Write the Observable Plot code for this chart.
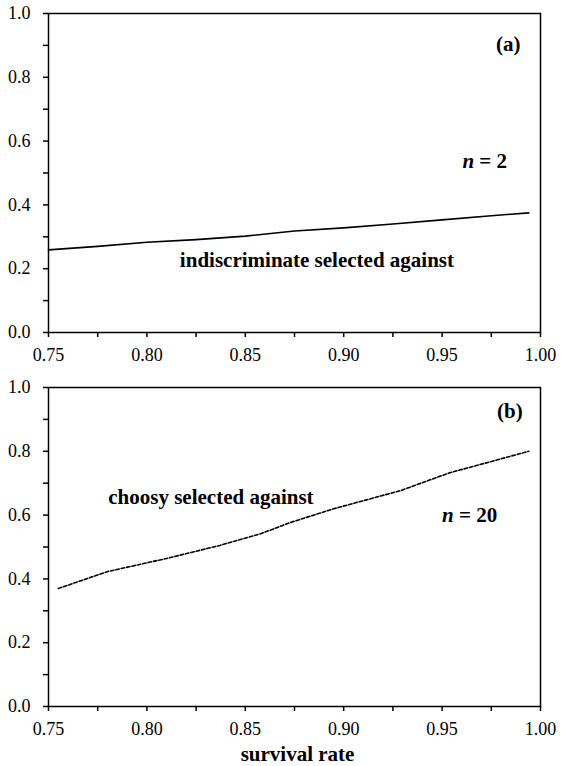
<!DOCTYPE html>
<html>
<head>
<meta charset="utf-8">
<script src="https://cdn.jsdelivr.net/npm/d3@7"></script>
<script src="https://cdn.jsdelivr.net/npm/@observablehq/plot@0.6"></script>
<style>
  html, body { margin: 0; padding: 0; background: #fff; }
  #chart { position: relative; width: 562px; height: 766px; }
  #chart svg { position: absolute; left: 0; overflow: visible; }
  #chart svg, #chart svg text, #chart svg tspan { font-family: "Liberation Serif", "Times New Roman", serif !important; }
</style>
</head>
<body>
<div id="chart"></div>
<script>
// ---- data ----
const survivalA = [0.75, 0.775, 0.80, 0.825, 0.85, 0.875, 0.90, 0.925, 0.95, 0.975, 0.994];
const valueA    = [0.259, 0.270, 0.283, 0.291, 0.302, 0.318, 0.328, 0.340, 0.353, 0.366, 0.375];
const survivalB = [0.755, 0.78, 0.81, 0.837, 0.858, 0.873, 0.895, 0.929, 0.954, 0.975, 0.994];
const valueB    = [0.370, 0.423, 0.464, 0.505, 0.542, 0.577, 0.620, 0.677, 0.733, 0.768, 0.800];
const xTicks = [0.75, 0.775, 0.80, 0.825, 0.85, 0.875, 0.90, 0.925, 0.95, 0.975, 1.00];
const xLabels = [0.75, 0.80, 0.85, 0.90, 0.95, 1.00];
const yTicks = [0, 0.1, 0.2, 0.3, 0.4, 0.5, 0.6, 0.7, 0.8, 0.9, 1.0];
const yLabels = [0, 0.2, 0.4, 0.6, 0.8, 1.0];
const panelLabels = ["(a)", "(b)"];
const nLabels = ["n = 2", "n = 20"];
const notes = ["indiscriminate selected against", "choosy selected against"];
const xTitle = "survival rate";

const near = (v, arr) => arr.some(a => Math.abs(a - v) < 1e-9);
const fx = d3.format(".2f"), fy = d3.format(".1f");
const FONT = "Liberation Serif";

function panel({xs, ys, dash, label, labelPos, nLabel, nPos, note, notePos, height, marginTop, marginBottom, extra = []}) {
  const data = xs.map((x, i) => ({x, y: ys[i]}));
  return Plot.plot({
    width: 562, height, marginLeft: 48, marginRight: 22, marginTop, marginBottom,
    style: {fontFamily: FONT, fontSize: "18px", color: "black", background: "white"},
    x: {domain: [0.75, 1.0]},
    y: {domain: [0, 1]},
    marks: [
      Plot.axisX({ticks: xTicks, tickFormat: d => near(d, xLabels) ? fx(d) : "", tickSize: 5, tickPadding: 11, strokeWidth: 1.5, label: null, fontSize: 18, fontFamily: FONT}),
      Plot.axisY({ticks: yTicks, tickFormat: d => near(d, yLabels) ? fy(d) : "", tickSize: 5, tickPadding: 13, strokeWidth: 1.5, label: null, fontSize: 18, fontFamily: FONT}),
      Plot.frame({stroke: "black", strokeWidth: 1.5}),
      Plot.line(data, {x: "x", y: "y", stroke: "black", strokeWidth: 1.6, strokeDasharray: dash}),
      Plot.text([label], {x: labelPos[0], y: labelPos[1], text: d => d, textAnchor: "end", fontWeight: "bold", fontSize: 21, fontFamily: FONT}),
      Plot.text([nLabel], {x: nPos[0], y: nPos[1], text: d => d, textAnchor: "end", fontWeight: "bold", fontSize: 21, fontFamily: FONT}),
      Plot.text([note], {x: notePos[0], y: notePos[1], text: d => d, textAnchor: notePos[2], fontWeight: "bold", fontSize: 21, fontFamily: FONT}),
      ...extra
    ]
  });
}

const a = panel({
  xs: survivalA, ys: valueA, dash: null,
  label: panelLabels[0], labelPos: [0.9898, 0.905],
  nLabel: nLabels[0], nPos: [0.983, 0.538],
  note: notes[0], notePos: [0.8864, 0.225, "middle"],
  height: 370, marginTop: 13, marginBottom: 38
});
const b = panel({
  xs: survivalB, ys: valueB, dash: "3.5,2",
  label: panelLabels[1], labelPos: [0.991, 0.927],
  nLabel: nLabels[1], nPos: [0.978, 0.601],
  note: notes[1], notePos: [0.8847, 0.657, "end"],
  height: 396, marginTop: 17, marginBottom: 60,
  extra: [Plot.text([xTitle], {frameAnchor: "bottom", lineAnchor: "bottom", dy: 54, dx: 3, text: d => d, fontWeight: "bold", fontSize: 21, fontFamily: FONT})]
});

// italic "n" in the n = ... labels
for (const svg of [a, b]) {
  d3.select(svg).selectAll("text").each(function() {
    const t = this.textContent;
    if (/^n = \d+$/.test(t) && this.childElementCount === 0) {
      const sel = d3.select(this);
      sel.text(null);
      sel.append("tspan").attr("font-style", "italic").text("n");
      sel.append("tspan").text(t.slice(1));
    }
  });
}

a.style.top = "0px";
b.style.top = "370px";
const chart = document.getElementById("chart");
chart.append(a, b);
</script>
</body>
</html>
